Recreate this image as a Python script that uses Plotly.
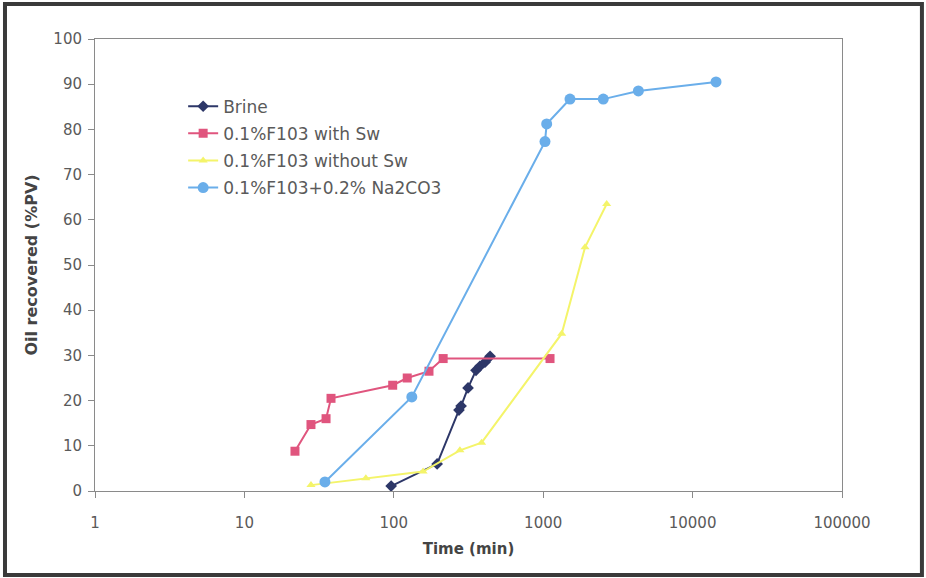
import plotly.graph_objects as go

# Data (time in min, oil recovered in %PV)
brine_t = [96, 195, 273, 282, 314, 355, 377, 408, 441]
brine_y = [1.1, 6.0, 17.9, 18.8, 22.8, 26.7, 27.6, 28.5, 29.8]

with_sw_t = [21.8, 27.9, 35.2, 38, 98.3, 123, 172, 214, 1111]
with_sw_y = [8.8, 14.7, 16.0, 20.5, 23.4, 25.0, 26.5, 29.3, 29.3]

without_sw_t = [27.9, 65, 157, 277, 387, 1330, 1905, 2660]
without_sw_y = [1.3, 2.8, 4.3, 9.0, 10.7, 34.8, 53.9, 63.5]

na2co3_t = [34.6, 132, 1028, 1055, 1511, 2524, 4335, 14350]
na2co3_y = [2.0, 20.8, 77.3, 81.2, 86.7, 86.7, 88.5, 90.5]

x_tickvals = [1, 10, 100, 1000, 10000, 100000]
x_ticktext = ["1", "10", "100", "1000", "10000", "100000"]

series = [
    ("Brine", brine_t, brine_y, "#2D3768", "diamond", 9),
    ("0.1%F103 with Sw", with_sw_t, with_sw_y, "#E0557E", "square", 9),
    ("0.1%F103 without Sw", without_sw_t, without_sw_y, "#F4F46A", "triangle-up", 8),
    ("0.1%F103+0.2% Na2CO3", na2co3_t, na2co3_y, "#6AAEEA", "circle", 11),
]

FONT = "DejaVu Sans, Liberation Sans, Arial, sans-serif"

fig = go.Figure()
for i, (name, xs, ys, col, sym, sz) in enumerate(series):
    fig.add_trace(go.Scatter(
        x=xs, y=ys, name=name, mode="lines+markers",
        legendgroup=f"g{i}",
        line=dict(color=col, width=2),
        marker=dict(color=col, symbol=sym, size=sz, line=dict(width=0)),
    ))

fig.update_layout(
    width=926, height=578,
    margin=dict(l=95, r=84, t=39, b=87),
    paper_bgcolor="white", plot_bgcolor="white",
    font=dict(family=FONT, size=15, color="#5a5a5a"),
    showlegend=True,
    legend=dict(
        x=0.118, y=0.89, xanchor="left", yanchor="top",
        bgcolor="rgba(0,0,0,0)", font=dict(family=FONT, size=17, color="#5a5a5a"),
        traceorder="grouped", tracegroupgap=2, itemwidth=30,
    ),
    xaxis=dict(
        type="log", range=[0, 5], tickvals=x_tickvals, ticktext=x_ticktext,
        showgrid=False, zeroline=False, showline=True, linecolor="#8a8a8a",
        linewidth=1, mirror=True, ticks="outside", ticklen=6, tickcolor="#8a8a8a",
        ticklabelstandoff=12,
        tickfont=dict(family=FONT, size=15, color="#5a5a5a"),
        title=dict(text="<b>Time (min)</b>", font=dict(family=FONT, size=15, color="#444"), standoff=12),
    ),
    yaxis=dict(
        range=[0, 100], dtick=10, showgrid=False, zeroline=False, showline=True,
        linecolor="#8a8a8a", linewidth=1, mirror=True, ticks="outside", ticklen=6,
        tickcolor="#8a8a8a", ticklabelstandoff=3,
        tickfont=dict(family=FONT, size=15, color="#5a5a5a"),
        title=dict(text="<b>Oil recovered (%PV)</b>", font=dict(family=FONT, size=16, color="#444"), standoff=11),
    ),
)

fig.add_shape(type="rect", xref="paper", yref="paper",
              x0=-0.1205, x1=1.107, y0=-0.1858, y1=1.0774,
              line=dict(color="#3a3a3a", width=4), fillcolor="rgba(0,0,0,0)",
              layer="above")

fig.write_html("out.html")
